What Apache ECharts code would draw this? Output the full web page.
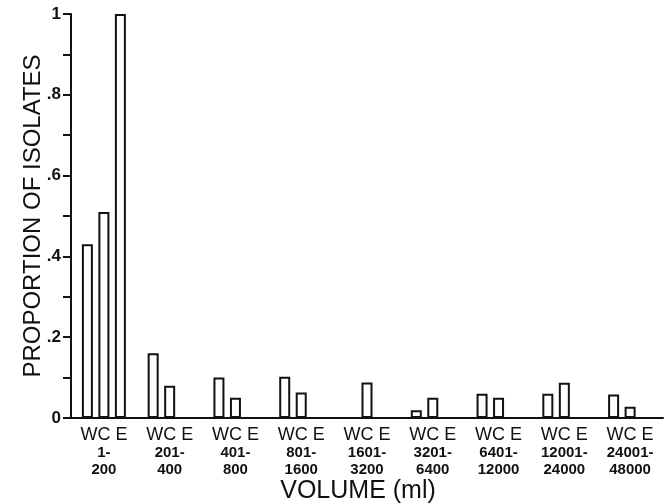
<!DOCTYPE html>
<html>
<head>
<meta charset="utf-8">
<script src="https://cdn.jsdelivr.net/npm/echarts@6/dist/echarts.min.js"></script>
<style>html,body{margin:0;padding:0;background:#fff}#c{width:669px;height:504px}</style>
</head>
<body>
<div id="c"></div>
<script>
// Volume ranges (ml)
var categories = ['1-200', '201-400', '401-800', '801-1600', '1601-3200', '3201-6400', '6401-12000', '12001-24000', '24001-48000'];
var seriesNames = ['W', 'C', 'E'];
var valuesW = [0.43, 0.16, 0.10, 0.102, 0, 0.019, 0.06, 0.06, 0.058];
var valuesC = [0.51, 0.08, 0.05, 0.063, 0.088, 0.05, 0.05, 0.087, 0.028];
var valuesE = [1.0, 0, 0, 0, 0, 0, 0, 0, 0];
var yTickLabels = {'0': '0', '0.2': '.2', '0.4': '.4', '0.6': '.6', '0.8': '.8', '1': '1'};

var FONT = 'Liberation Sans';
var chart = echarts.init(document.getElementById('c'), null, {renderer: 'canvas'});

function barSeries(name, data) {
  return {
    name: name,
    type: 'bar',
    data: data,
    barWidth: 11,
    barGap: '50%',
    itemStyle: {color: '#fff', borderColor: '#111', borderWidth: 2},
    silent: true
  };
}

chart.setOption({
  animation: false,
  backgroundColor: '#fff',
  grid: {left: 71, right: 6, top: 14, bottom: 86, containLabel: false, outerBoundsMode: 'none'},
  xAxis: {
    type: 'category',
    data: categories,
    axisLine: {lineStyle: {color: '#111', width: 2}},
    axisTick: {show: false},
    axisLabel: {
      interval: 0,
      margin: 8,
      formatter: function (v) {
        var p = v.split('-');
        return '{a|WC E}\n{b|' + p[0] + '-}\n{b|' + p[1] + '}';
      },
      rich: {
        a: {fontFamily: FONT, fontSize: 18, lineHeight: 18, color: '#111'},
        b: {fontFamily: FONT, fontSize: 15, fontWeight: 'bold', lineHeight: 17, color: '#111'}
      }
    },
    name: 'VOLUME (ml)',
    nameLocation: 'middle',
    nameGap: 61,
    nameMoveOverlap: false,
    nameTextStyle: {fontFamily: FONT, fontSize: 25, color: '#111', padding: [0, 18, 0, 0]}
  },
  yAxis: {
    type: 'value',
    min: 0,
    max: 1,
    interval: 0.1,
    splitLine: {show: false},
    axisLine: {show: true, lineStyle: {color: '#111', width: 2}},
    axisTick: {show: true, length: 8, lineStyle: {color: '#111', width: 2}},
    axisLabel: {
      margin: 10,
      fontFamily: FONT,
      fontSize: 17,
      fontWeight: 'bold',
      color: '#111',
      formatter: function (v) {
        var k = String(Math.round(v * 10) / 10);
        return yTickLabels.hasOwnProperty(k) ? yTickLabels[k] : '';
      }
    },
    name: 'PROPORTION OF ISOLATES',
    nameLocation: 'middle',
    nameRotate: 90,
    nameGap: 26,
    nameMoveOverlap: false,
    nameTextStyle: {fontFamily: FONT, fontSize: 24, color: '#111'}
  },
  series: [
    barSeries(seriesNames[0], valuesW),
    barSeries(seriesNames[1], valuesC),
    barSeries(seriesNames[2], valuesE)
  ]
});
</script>
</body>
</html>
